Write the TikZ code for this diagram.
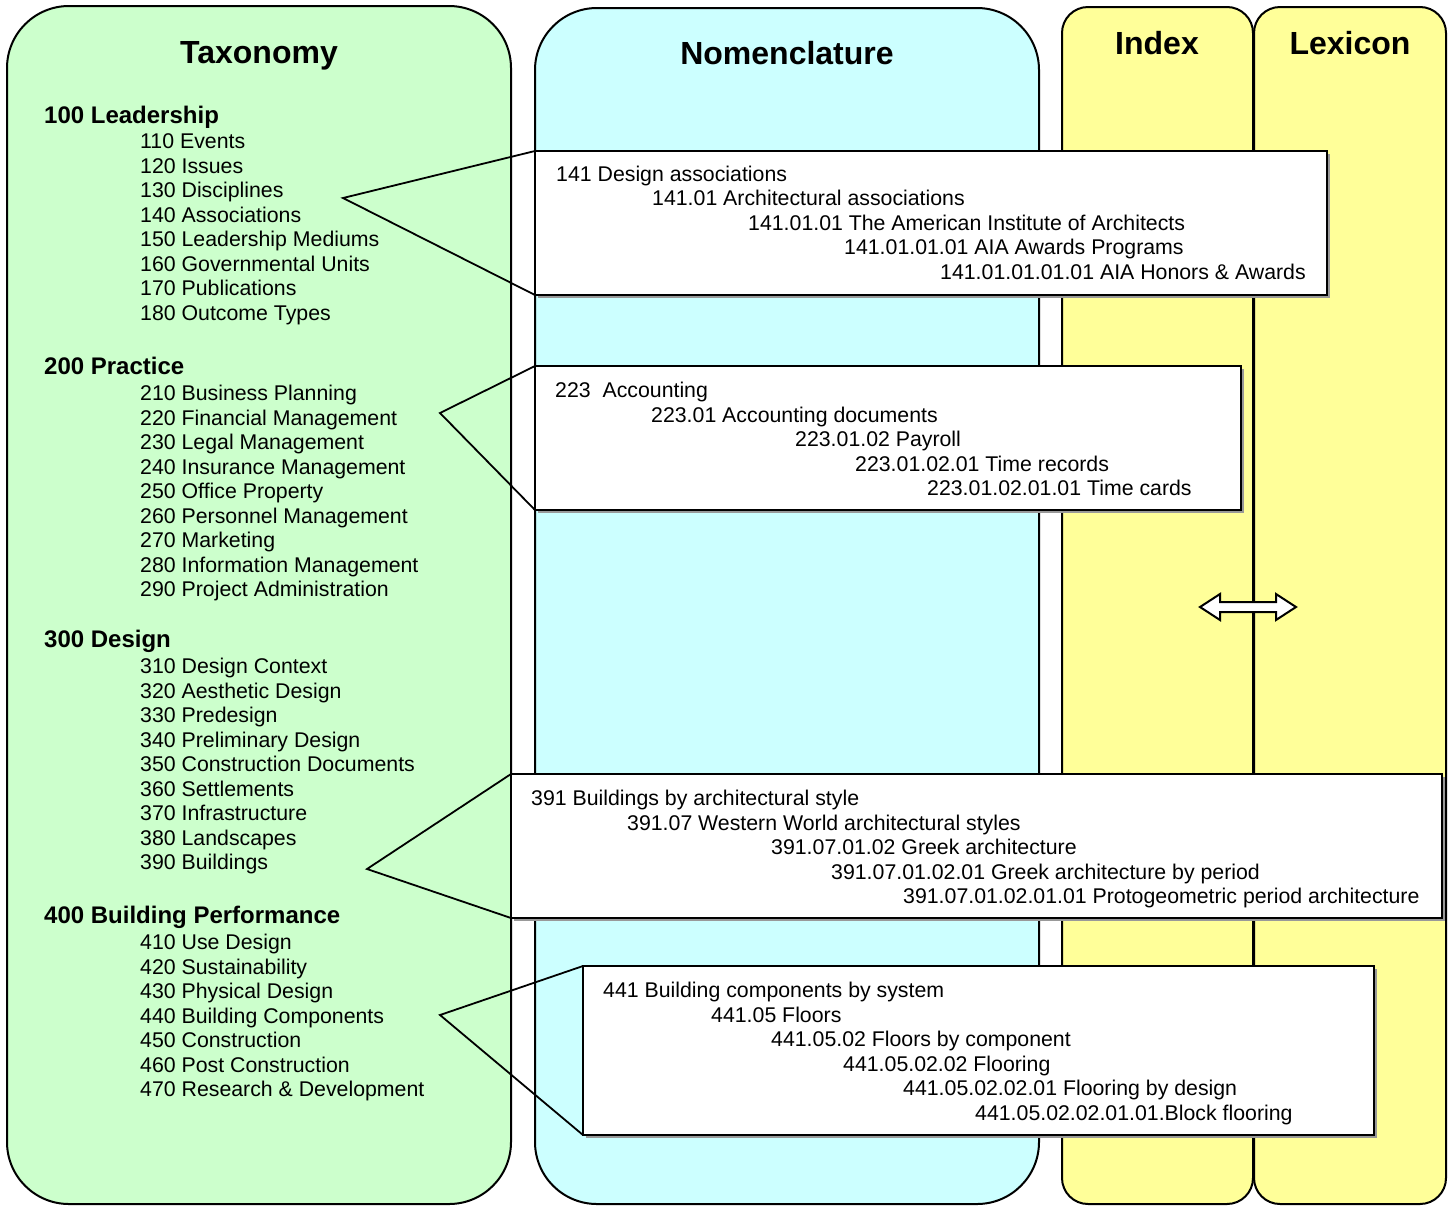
\documentclass[tikz,border=0pt]{standalone}
\usepackage{fontspec}
\setmainfont{Liberation Sans}
\usetikzlibrary{shadows}
\definecolor{pgreen}{HTML}{CCFFCC}
\definecolor{pcyan}{HTML}{CCFFFF}
\definecolor{pyellow}{HTML}{FFFF99}
\tikzset{
 panel/.style={draw=black, line width=2pt, anchor=north west, inner sep=0pt, outer sep=0pt},
 ptitle/.style={anchor=base, inner sep=0pt, font=\fontsize{32}{36}\selectfont\bfseries},
 phead/.style={anchor=base west, inner sep=0pt, font=\fontsize{24}{26}\selectfont\bfseries},
 pitem/.style={anchor=base west, inner sep=0pt, font=\fontsize{21.3}{24.5}\selectfont},
 callbox/.style={draw=black, line width=2pt, fill=white, anchor=north west, inner sep=0pt, outer sep=0pt,
   drop shadow={shadow xshift=3pt, shadow yshift=-3pt, fill=black!40, opacity=1}},
 pointer/.style={draw=black, line width=1.8pt, line join=miter},
 dblarrow/.style={draw=black, line width=2pt, fill=white, line join=miter},
}
\begin{document}
\begin{tikzpicture}[x=1pt,y=-1pt]
\useasboundingbox[fill=white] (0,0) rectangle (1450,1205);

% panels
\node[panel, fill=pgreen, rounded corners=62pt, minimum width=504pt, minimum height=1198pt] (tax) at (7,6) {};
\node[panel, fill=pcyan, rounded corners=62pt, minimum width=504pt, minimum height=1196pt] (nom) at (535,8) {};
\node[panel, fill=pyellow, rounded corners=26pt, minimum width=191pt, minimum height=1197pt] (idx) at (1062,7) {};
\node[panel, fill=pyellow, rounded corners=26pt, minimum width=192pt, minimum height=1197pt] (lex) at (1254,7) {};

% titles
\node[ptitle] (ttax) at (259,63) {Taxonomy};
\node[ptitle] (tnom) at (787,64) {Nomenclature};
\node[ptitle] (tidx) at (1157,54) {Index};
\node[ptitle] (tlex) at (1350,54) {Lexicon};

% taxonomy headings
\node[phead] (h1) at (44,123.5) {100 Leadership};
\node[phead] (h2) at (44,374.5) {200 Practice};
\node[phead] (h3) at (44,647.5) {300 Design};
\node[phead] (h4) at (44,923.5) {400 Building Performance};

% taxonomy items
\foreach \t [count=\i] in {110 Events, 120 Issues, 130 Disciplines, 140 Associations, 150 Leadership Mediums, 160 Governmental Units, 170 Publications, 180 Outcome Types}
  \node[pitem] (a\i) at (140,{141+7.5+24.5*(\i-1)}) {\t};
\foreach \t [count=\i] in {210 Business Planning, 220 Financial Management, 230 Legal Management, 240 Insurance Management, 250 Office Property, 260 Personnel Management, 270 Marketing, 280 Information Management, 290 Project Administration}
  \node[pitem] (b\i) at (140,{393+7.5+24.5*(\i-1)}) {\t};
\foreach \t [count=\i] in {310 Design Context, 320 Aesthetic Design, 330 Predesign, 340 Preliminary Design, 350 Construction Documents, 360 Settlements, 370 Infrastructure, 380 Landscapes, 390 Buildings}
  \node[pitem] (c\i) at (140,{666+7.5+24.5*(\i-1)}) {\t};
\foreach \t [count=\i] in {410 Use Design, 420 Sustainability, 430 Physical Design, 440 Building Components, 450 Construction, 460 Post Construction, 470 Research \& Development}
  \node[pitem] (d\i) at (140,{942+7.5+24.5*(\i-1)}) {\t};

% callouts
\node[callbox, minimum width=792pt, minimum height=144pt] (k1) at (535,151) {};
\coordinate (p1) at (343,198);
\draw[pointer] (k1.north west) -- (p1) -- (k1.south west);

\node[callbox, minimum width=706pt, minimum height=144pt] (k2) at (535,366) {};
\coordinate (p2) at (440,413);
\draw[pointer] (k2.north west) -- (p2) -- (k2.south west);

\node[callbox, minimum width=931pt, minimum height=144pt] (k3) at (511,774) {};
\coordinate (p3) at (367,869);
\draw[pointer] (k3.north west) -- (p3) -- (k3.south west);

\node[callbox, minimum width=791pt, minimum height=169pt] (k4) at (583,966) {};
\coordinate (p4) at (440,1015);
\draw[pointer] (k4.north west) -- (p4) -- (k4.south west);

% callout texts
\foreach \x/\y/\t [count=\i] in {556/174/{141 Design associations}, 652/198/{141.01 Architectural associations}, 748/223/{141.01.01 The American Institute of Architects}, 844/247/{141.01.01.01 AIA Awards Programs}, 940/272/{141.01.01.01.01 AIA Honors \& Awards}}
  \node[pitem] (e\i) at (\x,\y+7.5) {\t};
\foreach \x/\y/\t [count=\i] in {555/390/{223\ \ Accounting}, 651/415/{223.01 Accounting documents}, 795/439/{223.01.02 Payroll}, 855/464/{223.01.02.01 Time records}, 927/488/{223.01.02.01.01 Time cards}}
  \node[pitem] (f\i) at (\x,\y+7.5) {\t};
\foreach \x/\y/\t [count=\i] in {531/798/{391 Buildings by architectural style}, 627/823/{391.07 Western World architectural styles}, 771/847/{391.07.01.02 Greek architecture}, 831/872/{391.07.01.02.01 Greek architecture by period}, 903/896/{391.07.01.02.01.01 Protogeometric period architecture}}
  \node[pitem] (g\i) at (\x,\y+7.5) {\t};
\foreach \x/\y/\t [count=\i] in {603/990/{441 Building components by system}, 711/1015/{441.05 Floors}, 771/1039/{441.05.02 Floors by component}, 843/1064/{441.05.02.02 Flooring}, 903/1088/{441.05.02.02.01 Flooring by design}, 975/1113/{441.05.02.02.01.01.Block flooring}}
  \node[pitem] (m\i) at (\x,\y+7.5) {\t};

% double arrow between Index and Lexicon
\draw[dblarrow] (1200,607) -- (1220,594) -- (1220,602) -- (1276,602) -- (1276,594) -- (1296,607) -- (1276,620) -- (1276,612) -- (1220,612) -- (1220,620) -- cycle;
\end{tikzpicture}
\end{document}
